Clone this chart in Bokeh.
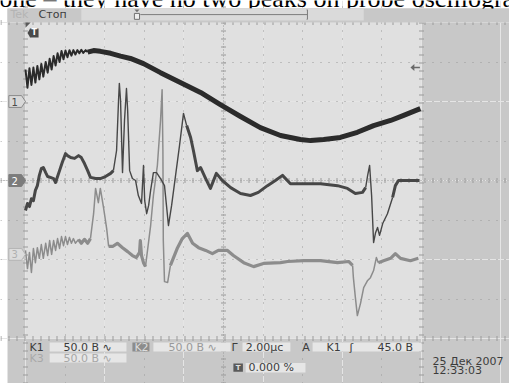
from bokeh.plotting import figure
from bokeh.models import Label, Grid, FixedTicker, ColumnDataSource, Range1d
from bokeh.embed import file_html
from bokeh.resources import INLINE

# ---------------- data (screen divisions: x 0..10 at 2 us/div, y 0 = centre line) -------------
ch1_x = [0.00, 0.05, 0.10, 0.15, 0.20, 0.25, 0.30, 0.35, 0.40, 0.45, 0.51, 0.56, 0.61, 0.66, 0.71,
         0.76, 0.81, 0.86, 0.91, 0.96, 1.01, 1.06, 1.11, 1.16, 1.21, 1.26, 1.31, 1.36, 1.41, 1.46,
         1.52, 1.57, 1.72, 1.89, 2.15, 2.40, 2.65, 2.98, 3.41, 3.91, 4.42, 4.92, 5.43, 5.93, 6.44,
         6.94, 7.20, 7.53, 7.95, 8.38, 8.79, 9.22, 9.55, 9.97]
ch1_y = [2.81, 2.35, 2.84, 2.42, 2.86, 2.48, 2.90, 2.56, 2.95, 2.63, 3.00, 2.73, 3.08, 2.81, 3.15,
         2.91, 3.22, 3.00, 3.28, 3.07, 3.29, 3.12, 3.30, 3.16, 3.30, 3.19, 3.30, 3.22, 3.31, 3.23,
         3.30, 3.25, 3.29, 3.27, 3.22, 3.15, 3.09, 2.96, 2.73, 2.48, 2.23, 1.92, 1.62, 1.34, 1.14,
         1.04, 1.01, 1.04, 1.09, 1.22, 1.39, 1.52, 1.65, 1.82]

ch2_x = [0.00, 0.05, 0.10, 0.15, 0.20, 0.25, 0.30, 0.35, 0.40, 0.45, 0.51, 0.56, 0.63, 0.71, 0.76,
         0.81, 0.86, 0.93, 1.01, 1.06, 1.14, 1.24, 1.34, 1.41, 1.49, 1.57, 1.64, 1.77, 1.89, 2.02,
         2.15, 2.22, 2.30, 2.35, 2.37, 2.40, 2.45, 2.50, 2.55, 2.58, 2.63, 2.70, 2.78, 2.85, 2.93,
         2.98, 3.01, 3.06, 3.11, 3.16, 3.23, 3.31, 3.41, 3.51, 3.56, 3.61, 3.69, 3.79, 3.89, 3.99,
         4.07, 4.17, 4.24, 4.34, 4.42, 4.55, 4.67, 4.82, 4.97, 5.18, 5.43, 5.68, 5.88, 6.11, 6.31,
         6.49, 6.69, 7.02, 7.45, 7.88, 8.13, 8.33, 8.51, 8.59, 8.64, 8.69, 8.74, 8.79, 8.84, 8.89,
         8.94, 9.02, 9.14, 9.27, 9.34, 9.42, 9.72, 9.95]
ch2_y = [-0.76, -0.58, -0.66, -0.46, -0.51, -0.25, -0.13, 0.13, 0.30, 0.33, 0.20, 0.10, 0.08, 0.05,
         -0.05, 0.10, 0.25, 0.46, 0.68, 0.63, 0.58, 0.56, 0.63, 0.58, 0.43, 0.25, 0.08, 0.05, 0.05,
         0.10, 0.18, 0.25, 0.76, 2.03, 2.46, 2.03, 0.20, 1.52, 2.33, 1.77, 0.25, 0.05, 0.00, -0.38,
         -0.58, 0.38, -0.51, -0.84, -0.63, -0.25, 0.20, 0.20, 0.05, -0.13, -0.63, -1.14, -0.63,
         0.13, 0.89, 1.70, 1.39, 1.09, 0.76, 0.25, 0.33, 0.05, -0.20, 0.18, 0.00, -0.18, -0.33,
         -0.38, -0.30, -0.13, 0.00, 0.13, -0.08, -0.08, -0.08, -0.13, -0.20, -0.33, -0.30, -0.18,
         0.13, 0.38, -0.38, -1.57, -1.32, -1.19, -1.39, -1.09, -0.84, -0.43, -0.13, 0.00, 0.00, 0.00]

ch3_x = [0.00, 0.05, 0.10, 0.15, 0.20, 0.25, 0.30, 0.35, 0.40, 0.45, 0.51, 0.56, 0.61, 0.66, 0.71,
         0.76, 0.81, 0.86, 0.91, 0.96, 1.01, 1.06, 1.11, 1.16, 1.21, 1.26, 1.34, 1.41, 1.49, 1.57,
         1.64, 1.72, 1.77, 1.84, 1.89, 1.97, 2.05, 2.10, 2.20, 2.32, 2.45, 2.58, 2.70, 2.80, 2.88,
         2.90, 2.93, 2.98, 3.03, 3.16, 3.23, 3.33, 3.41, 3.45, 3.47, 3.48, 3.51, 3.59, 3.66, 3.84,
         3.96, 4.09, 4.22, 4.37, 4.55, 4.72, 4.87, 5.10, 5.25, 5.51, 5.76, 6.01, 6.44, 6.62, 7.02,
         7.45, 7.88, 8.16, 8.26, 8.28, 8.33, 8.38, 8.46, 8.54, 8.64, 8.71, 8.79, 8.86, 8.91, 9.04,
         9.22, 9.34, 9.47, 9.72, 9.92]
ch3_y = [-1.77, -2.23, -1.82, -2.33, -1.72, -2.08, -1.70, -1.97, -1.62, -1.97, -1.59, -1.90, -1.52,
         -1.87, -1.52, -1.77, -1.47, -1.72, -1.42, -1.65, -1.42, -1.62, -1.44, -1.59, -1.47, -1.59,
         -1.49, -1.59, -1.49, -1.59, -1.47, -0.84, -0.20, -0.56, -0.20, -0.68, -1.22, -1.67, -1.67,
         -1.59, -1.70, -1.80, -1.90, -1.95, -1.82, -1.52, -1.90, -2.08, -2.18, -1.14, -0.38, 0.38,
         1.52, 2.30, 0.76, -1.52, -2.56, -2.58, -2.15, -1.70, -1.47, -1.34, -1.59, -1.70, -1.77,
         -1.85, -1.77, -1.77, -1.90, -2.08, -2.18, -2.10, -2.08, -2.05, -2.03, -2.03, -2.08, -2.05,
         -2.15, -2.46, -2.96, -3.42, -3.11, -2.71, -2.53, -2.46, -2.28, -1.95, -2.08, -2.03, -1.97,
         -1.85, -1.97, -2.03, -1.97]

ch_levels = [2.0, 0.0, -1.87]          # ground markers 1, 2, 3 (divisions)
trig_level = 2.86                       # trigger level arrow (divisions)
settings_row1 = ["K1", "50.0 B \u223f", "K2", "50.0 B \u223f", "\u0413", "2.00\u03bcc", "A", "K1", "\u0283", "45.0 B"]
settings_row2 = ["K3", "50.0 B \u223f"]
trig_pos = "0.000 %"
date_txt = ["25 \u0414\u0435\u043a 2007", "12:33:03"]
caption = "one \u2013 they have no two peaks on probe oscillogram"

# ---------------- figure ----------------
SCREEN = "#c8c8c8"
PLOT = "#e0e0e0"
p = figure(width=509, height=383, x_range=Range1d(-0.631, 12.222), y_range=Range1d(-5.139, 4.557),
           output_backend="svg", toolbar_location=None, x_axis_location=None, y_axis_location=None,
           min_border=0)
p.background_fill_color = "#ffffff"
p.border_fill_color = "#ffffff"
p.outline_line_color = None

# scope screen and graticule area
p.quad(left=[-0.454], right=[12.3], bottom=[-5.2], top=[4.354], fill_color=SCREEN, line_color=None,
       level="image")
p.quad(left=[0], right=[10], bottom=[-4], top=[4], fill_color=PLOT, line_color="#9a9a9a",
       line_width=1, level="image")

def grid(dim, ticks, bounds, dash, width, color="#9a9a9a"):
    g = Grid(dimension=dim, ticker=FixedTicker(ticks=ticks), bounds=bounds,
             grid_line_color=color, grid_line_dash=dash, grid_line_width=width)
    p.add_layout(g)

grid(0, [1, 2, 3, 4, 6, 7, 8, 9], (-4, 4), "1 7", 1)
grid(1, [-3, -2, -1, 1, 2, 3], (0, 10), "1 7", 1)
grid(0, [5], (-4, 4), "1 2", 1)
grid(1, [0], (0, 10), "1 2", 1)
grid(0, [5], (-4, 4), "1 7", 5)
grid(1, [0], (0, 10), "1 7", 5)
grid(0, [0, 10], (-4, 4), "1 7", 5)
grid(1, [-4, 4], (0, 10), "1 7", 5)


def split(xs, ys, thin, w_thin, w_thick):
    lx, ly, lw = [], [], []
    cx, cy, flag = [xs[0]], [ys[0]], None
    for i in range(1, len(xs)):
        mid = 0.5 * (xs[i - 1] + xs[i])
        f = any(a <= mid <= b for a, b in thin)
        if flag is None:
            flag = f
        if f != flag:
            lx.append(cx); ly.append(cy); lw.append(w_thin if flag else w_thick)
            cx, cy, flag = [xs[i - 1]], [ys[i - 1]], f
        cx.append(xs[i]); cy.append(ys[i])
    lx.append(cx); ly.append(cy); lw.append(w_thin if flag else w_thick)
    return ColumnDataSource(dict(xs=lx, ys=ly, w=lw))

p.multi_line(xs="xs", ys="ys", line_width="w", line_color="#8c8c8c", line_join="round",
             source=split(ch3_x, ch3_y, [(0, 1.3), (1.64, 2.10), (3.03, 3.70), (8.26, 8.91)], 1.5, 3.2))
p.multi_line(xs="xs", ys="ys", line_width="w", line_color="#474747", line_join="round",
             source=split(ch2_x, ch2_y, [(2.22, 4.10), (8.59, 9.30)], 1.4, 3.0))
p.multi_line(xs="xs", ys="ys", line_width="w", line_color="#2b2b2b", line_join="round",
             source=split(ch1_x, ch1_y, [(0, 1.6)], 2.0, 5.0))

FONT = "DejaVu Sans"

def lab(x, y, t, color="#3c3c3c", size="11px", align="left", style="normal", font=FONT,
        baseline="middle", level="annotation"):
    p.add_layout(Label(x=x, y=y, text=t, text_color=color, text_font=font, text_font_size=size,
                       text_align=align, text_baseline=baseline, text_font_style=style, level=level))

# ---- caption of the source page, cut off at the top edge as in the reference ----
lab(-0.66, 4.60, caption, color="#000000", size="26px", font="Liberation Serif",
    baseline="alphabetic")
p.quad(left=[-0.454], right=[12.3], bottom=[4.0], top=[4.354], fill_color=SCREEN, line_color=None,
       level="overlay")

# ---- top bar ----
lab(-0.38, 4.20, "Tek", color="#b4b4b4", level="overlay")
lab(0.33, 4.20, "\u0421\u0442\u043e\u043f", level="overlay")
p.quad(left=[1.41], right=[8.54], bottom=[4.05], top=[4.354], fill_color="#dadada", line_color=None,
       level="overlay")
p.line([2.90, 7.12], [4.20, 4.20], line_color="#7c7c7c", line_width=1, level="overlay")
p.line([7.10, 7.12, 7.12, 7.10], [4.32, 4.32, 4.08, 4.08], line_color="#7c7c7c", line_width=1,
       level="overlay")
p.quad(left=[2.75], right=[2.88], bottom=[4.08], top=[4.23], fill_color="#eeeeee", line_color="#707070",
       level="overlay")
p.patch([2.75, 2.88, 2.815], [4.33, 4.33, 4.26], fill_color="#707070", line_color=None, level="overlay")

# ---- trigger position tag & corner ----
p.patch([0, 0.13, 0], [4, 4, 3.87], fill_color="#5a5a5a", line_color=None, level="overlay")
p.patch([0.05, 0.12, 0.12], [3.735, 3.85, 3.62], fill_color="#4a4a4a", line_color=None)
p.quad(left=[0.11], right=[0.33], bottom=[3.62], top=[3.85], fill_color="#4a4a4a", line_color=None)
lab(0.22, 3.735, "T", color="#ffffff", size="8px", align="center", style="bold")

# ---- trigger level arrow (right) ----
p.patch([9.72, 9.82, 9.82], [trig_level, trig_level + 0.09, trig_level - 0.09],
        fill_color="#6a6a6a", line_color=None)
p.line([9.80, 9.96], [trig_level, trig_level], line_color="#6a6a6a", line_width=1.5)

# ---- channel ground tags (left) ----
tag_style = [("#d8d8d8", "#8a8a8a", "#4a4a4a"), ("#7c7c7c", "#7c7c7c", "#ffffff"),
             ("#dcdcdc", "#b4b4b4", "#b0b0b0")]
for i, lvl in enumerate(ch_levels):
    fill, line, tc = tag_style[i]
    p.patch([-0.42, -0.10, 0.0, -0.10, -0.42], [lvl + 0.15, lvl + 0.15, lvl, lvl - 0.15, lvl - 0.15],
            fill_color=fill, line_color=line, line_width=1)
    lab(-0.27, lvl, str(i + 1), color=tc, size="10px", align="center")

# ---- bottom read-outs ----
BOX = "#e6e6e6"
p.quad(left=[0.61, 3.23, 5.48, 7.25, 0.61, 5.56], right=[2.55, 5.18, 6.69, 10.0, 2.55, 7.07],
       bottom=[-4.33, -4.33, -4.33, -4.33, -4.61, -4.86], top=[-4.10, -4.10, -4.10, -4.10, -4.38, -4.62],
       fill_color=BOX, line_color=None)
p.quad(left=[2.70], right=[3.13], bottom=[-4.33], top=[-4.10], fill_color="#8c8c8c", line_color=None)
r1y = -4.215
lab(0.10, r1y, settings_row1[0])
lab(0.96, r1y, settings_row1[1])
lab(2.75, r1y, settings_row1[2], color="#dcdcdc")
lab(3.61, r1y, settings_row1[3], color="#9a9a9a")
lab(5.20, r1y, settings_row1[4])
lab(5.56, r1y, settings_row1[5])
lab(6.99, r1y, settings_row1[6])
lab(7.60, r1y, settings_row1[7])
lab(8.18, r1y, settings_row1[8])
lab(8.89, r1y, settings_row1[9])
r2y = -4.495
lab(0.10, r2y, settings_row2[0], color="#a8a8a8")
lab(0.96, r2y, settings_row2[1], color="#a8a8a8")
p.quad(left=[5.25], right=[5.49], bottom=[-4.84], top=[-4.63], fill_color="#5a5a5a", line_color=None)
lab(5.37, -4.735, "T", color="#e0e0e0", size="7px", align="center", style="bold")
lab(5.63, -4.74, trig_pos)
lab(10.28, -4.58, date_txt[0])
lab(10.28, -4.81, date_txt[1])

open("out.html", "w").write(file_html(p, INLINE))
